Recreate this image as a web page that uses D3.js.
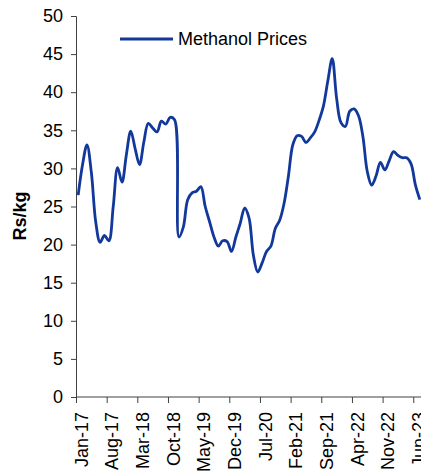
<!DOCTYPE html>
<html>
<head>
<meta charset="utf-8">
<script src="https://d3js.org/d3.v7.min.js"></script>
<style>
  body { margin: 0; background: #fff; }
  text { font-family: "Liberation Sans", Arial, sans-serif; }
</style>
</head>
<body>
<script>
// monthly methanol prices, Rs/kg, Jan-17 .. Jul-23
var seriesName = "Methanol Prices";
var prices = [
  26.5, 30.5, 33.1, 29.5, 23.0, 20.3, 21.2, 20.5, 25.0, 30.1, 28.2, 31.8,
  34.9, 32.6, 30.5, 33.5, 35.9, 35.3, 34.8, 36.2, 35.8, 36.7, 36.4, 21.0,
  22.3, 25.9, 26.8, 27.0, 27.6, 25.0, 23.0, 21.0, 19.8, 20.5, 20.4, 19.1,
  21.0, 22.8, 24.8, 23.5, 18.6, 16.4, 17.6, 19.1, 19.8, 22.1, 23.2, 25.4,
  29.0, 33.1, 34.3, 34.2, 33.4, 34.0, 34.8, 36.3, 38.2, 41.5, 44.4, 39.2,
  36.0, 35.5, 37.5, 37.8, 36.9, 34.2, 29.6, 27.8, 29.0, 30.8, 29.8, 31.0,
  32.2, 31.7, 31.4, 31.4, 30.6, 27.8, 25.9
];
var fmt = d3.timeFormat("%b-%y");
var months = d3.timeMonth.range(new Date(2017, 0, 1), new Date(2023, 7, 1)).map(fmt);
var tickLabels = ["Jan-17", "Aug-17", "Mar-18", "Oct-18", "May-19", "Dec-19",
                  "Jul-20", "Feb-21", "Sep-21", "Apr-22", "Nov-22", "Jun-23"];
var yTicks = [0, 5, 10, 15, 20, 25, 30, 35, 40, 45, 50];

function draw() {
  var width = 421, height = 473;
  var left = 76, plotTop = 16, bottom = 397;

  var svg = d3.select("body").append("svg")
      .attr("width", width)
      .attr("height", height);

  var x = d3.scaleLinear().domain([0, months.length]).range([left, left + 4.38 * months.length]);
  var y = d3.scaleLinear().domain([0, 50]).range([bottom, plotTop]);

  // y axis
  var yAxis = svg.append("g")
      .attr("transform", "translate(" + left + ",0)")
      .call(d3.axisLeft(y).tickValues(yTicks).tickSize(5).tickPadding(8));
  yAxis.select(".domain").attr("stroke", "#404040");
  yAxis.selectAll(".tick line").attr("stroke", "#404040");
  yAxis.selectAll("text")
      .style("font-size", "18px")
      .attr("fill", "#000");

  // x axis, ticks at the start of each labelled month
  var tickIdx = tickLabels.map(function (d) { return months.indexOf(d); });
  var xAxis = svg.append("g")
      .attr("transform", "translate(0," + bottom + ")")
      .call(d3.axisBottom(x).tickValues(tickIdx).tickSize(6)
        .tickFormat(function (d) { return months[d]; }));
  xAxis.select(".domain").attr("stroke", "#404040")
      .attr("d", "M" + left + ",0H" + width);
  xAxis.selectAll(".tick line").attr("stroke", "#404040");
  xAxis.selectAll("text")
      .style("font-size", "18px")
      .attr("fill", "#000")
      .attr("text-anchor", "end")
      .attr("dy", "0.35em")
      .attr("y", 0)
      .attr("transform", "translate(5,15) rotate(-90)");

  // y title
  svg.append("text")
      .attr("transform", "translate(20,216) rotate(-90)")
      .attr("text-anchor", "middle")
      .attr("dy", "0.35em")
      .style("font-size", "18px")
      .style("font-weight", "bold")
      .text("Rs/kg");

  // line
  var line = d3.line()
      .x(function (d, i) { return x(i + 0.5); })
      .y(function (d) { return y(d); })
      .curve(d3.curveCatmullRom.alpha(0.5));

  svg.append("path")
      .datum(prices)
      .attr("fill", "none")
      .attr("stroke", "#11389a")
      .attr("stroke-width", 2.8)
      .attr("d", line);

  // legend
  var lg = svg.append("g").attr("transform", "translate(120,39)");
  lg.append("line")
      .attr("x1", 0).attr("x2", 53)
      .attr("stroke", "#11389a")
      .attr("stroke-width", 2.8);
  lg.append("text")
      .attr("x", 58)
      .attr("dy", "0.35em")
      .style("font-size", "18px")
      .text(seriesName);
}

draw();
</script>
</body>
</html>
